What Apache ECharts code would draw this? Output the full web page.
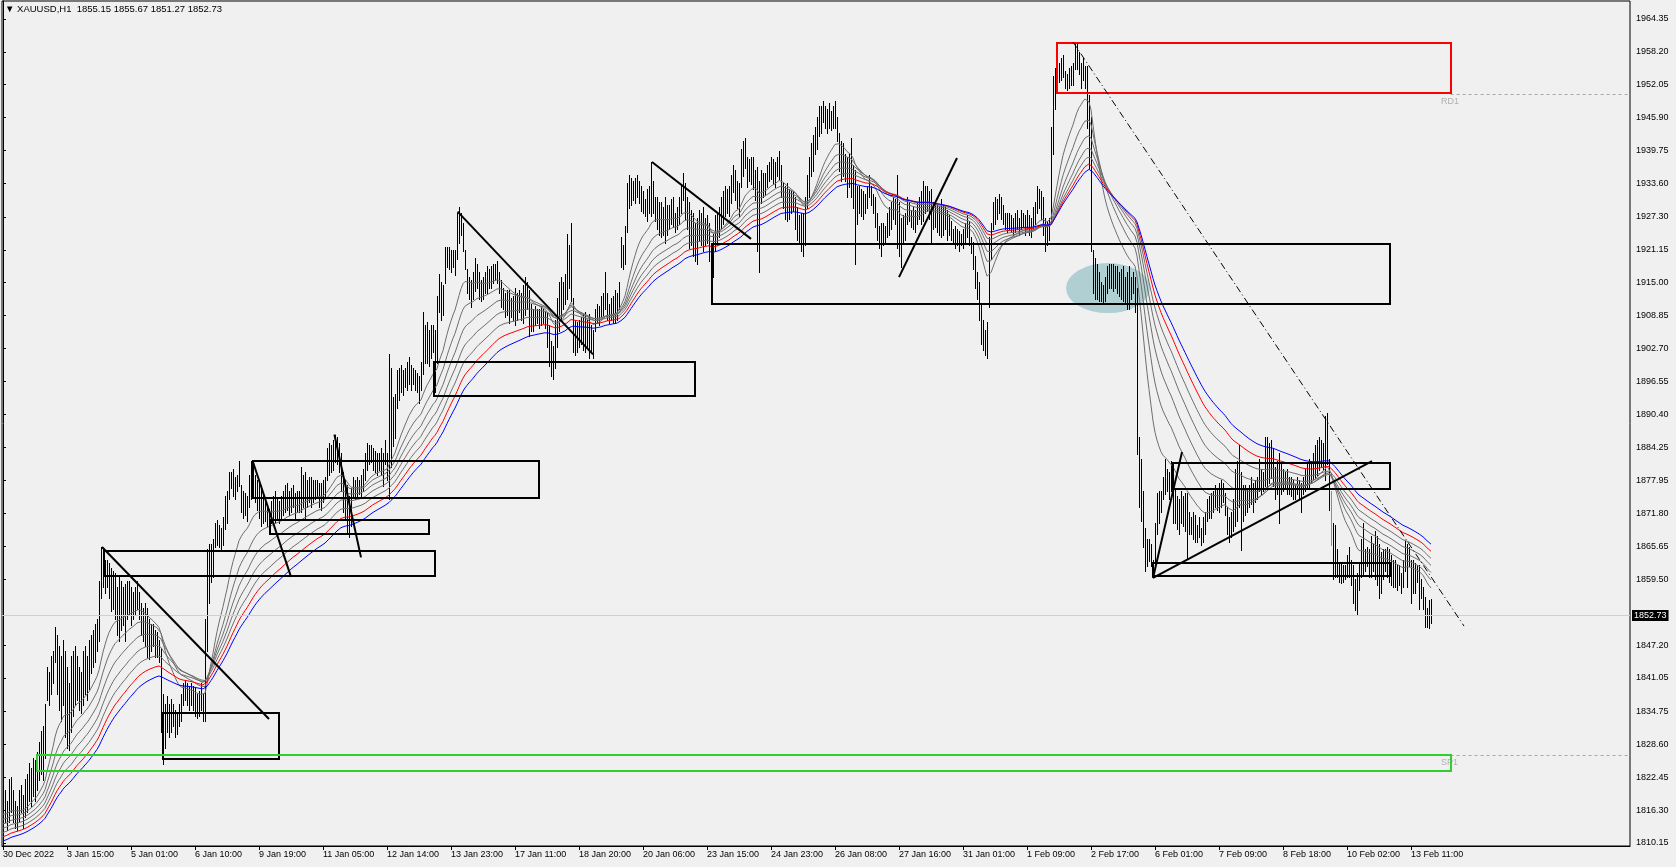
<!DOCTYPE html>
<html><head><meta charset="utf-8">
<script src="https://cdn.jsdelivr.net/npm/echarts@6/dist/echarts.min.js"></script>
<style>html,body{margin:0;padding:0;background:#f0f0f0;}#c{width:1676px;height:867px;}</style>
</head><body><div id="c"></div>
<script>
// ---------------- data ----------------
const titleText = '\u25BC XAUUSD,H1  1855.15 1855.67 1851.27 1852.73';
const lastPrice = 1852.73;

// H1 bar lows / highs, bar 0 = 30 Dec 2022
const lows = [
1813,1814,1812.5,1814,1816,1814,1813,1812.5,1814,1816,
1813,1815,1816,1818,1817,1819,1818,1820,1822,1823,
1822,1826,1837,1836,1838,1840,1844,1838,1835,1833,
1836,1830,1828,1827.5,1831,1834,1836,1837,1835,1834.5,
1836,1838,1837,1839,1842,1843,1844,1846,1848,1856,
1858,1857,1858,1856,1853.5,1854,1852,1849,1848,1850,
1851,1848,1852,1853,1851,1852,1853,1854,1852,1849,
1848,1847,1845,1844.5,1846,1847,1845,1845,1844,1831,
1825,1828,1831,1830,1831,1832,1830,1830.5,1832,1833,
1836,1837,1836,1835,1836,1835,1834,1833.5,1834,1835,
1833,1833,1846,1855,1859,1860,1865.5,1866,1865.5,1865,
1866,1869,1870,1874.5,1876.5,1875,1874.5,1876,1877,1872,
1871,1871.5,1870.5,1873,1874.5,1875,1874,1872.5,1871,1869.5,
1870,1870.5,1869.5,1869,1870,1871,1870,1871,1870,1871,
1871.5,1872,1872.5,1871.5,1872,1873,1871,1872,1872,1872,
1873,1871,1873,1874,1873,1874,1874.5,1875,1873,1872.5,
1874,1875,1878,1879,1879.5,1880,1881.5,1881,1879.5,1876,
1872,1871,1868,1867.5,1869.5,1875,1874.5,1875,1875.5,1875,
1876,1878,1880,1881,1881.5,1880,1879.5,1879,1880,1879,
1877,1881,1878,1874.5,1880.5,1884.5,1886,1891.5,1893,1894.5,
1894,1895.5,1895,1896,1895,1896,1895,1894.5,1892.5,1895,
1898,1900,1900,1899.5,1901,1902,1894.5,1900,1909.5,1908,
1909,1915,1918,1917.5,1917,1918,1916.5,1919.5,1922.5,1924,
1921,1917.5,1913,1912,1910.5,1912,1913.5,1914,1912,1911.5,
1912,1913,1913,1914,1914,1915,1915.5,1915,1913,1910.5,
1910,1908.5,1909,1907.5,1908.5,1908,1907,1908,1909.5,1908,
1907.5,1909,1910,1905,1906,1906,1907,1907.5,1906.5,1907,
1907.5,1906.5,1903,1899.5,1897.5,1897,1899,1903,1906,1908,
1910,1911,1912,1914,1911.5,1902,1901.5,1902,1903,1903.5,
1902.5,1902,1903,1901,1902,1901,1906,1907.5,1907,1908.5,
1909,1910,1908,1907.5,1908,1907.5,1907.5,1908,1910,1918,
1917.5,1918.5,1924.5,1929,1929.5,1930.5,1930,1931,1930,1928.5,
1928,1927.5,1926.5,1928,1927.5,1928,1926.5,1925,1924,1923.5,
1924,1922.5,1924,1925,1926,1925.5,1924.5,1925,1926,1928,
1930.5,1927,1925,1921.5,1922,1920,1919,1918.5,1923,1922,
1921,1922,1922.5,1919,1911.5,1916,1921,1922,1923.5,1925,
1926,1927.5,1928,1927.5,1930,1932,1930.5,1929,1927.5,1933,
1935,1936.5,1933,1934,1933.5,1932.5,1930.5,1921,1917,1930,
1931,1931.5,1933,1934,1934.5,1933.5,1933,1935,1934.5,1931,
1929,1927,1926.5,1927,1928,1928.5,1925,1923,1922.5,1921,
1920,1922,1929,1931,1935,1936,1939,1940,1942.5,1943,
1945,1944,1943,1944,1943.5,1944,1944,1941.5,1936,1934,
1935,1934,1931,1933,1931,1929,1918.5,1926,1928,1927.5,
1927,1928,1929,1931,1929.5,1928,1925.5,1923,1921.5,1920,
1922,1922.5,1923.5,1924,1925,1927,1926,1921.5,1920,1918,
1922.5,1923,1926,1926.5,1925.5,1925,1924.5,1926,1927,1926,
1926.5,1928,1928.5,1927,1922.5,1925,1925.5,1924.5,1924,1923.5,
1924,1925,1923,1924,1923,1922.5,1921.5,1922,1921,1922,
1921.5,1922.5,1923.5,1922,1920.5,1917.5,1914,1912,1908,1903.5,
1902.5,1901.5,1901,1910.5,1919.5,1925,1926,1927,1928,1927,
1926,1925,1924.5,1925,1924.5,1924,1924.5,1925,1924,1925,
1925.5,1924,1925,1924,1923.5,1925,1926,1928,1929,1927,
1924,1921,1922,1923,1926.5,1939,1947.5,1951,1952.5,1953,
1953.5,1951.5,1951,1951.5,1952,1952,1955,1955,1954,1951.5,
1953,1951.5,1944,1936.5,1921,1913,1912,1912,1911.5,1911.5,
1911,1911.5,1913,1914,1914,1913.5,1914,1913,1912.5,1912,
1911.5,1911,1910,1910,1912,1913,1909.5,1883,1873,1870.5,
1865.5,1861,1862,1863,1862,1860,1863,1868,1870,1872,
1874.5,1875.5,1876,1874.5,1876,1870,1870,1869,1868,1870,
1869.5,1868.5,1863.5,1868,1868,1867,1866.5,1866.5,1867.5,1866,
1866.5,1868,1870.5,1871,1871,1872,1873,1872.5,1872,1873,
1874,1871.5,1868,1866.5,1867.5,1868.5,1869.5,1870.5,1873,1865,
1870.5,1871.5,1872,1873,1873.5,1872,1874,1874.5,1876,1875.5,
1876,1877,1876.5,1877.5,1878.5,1877,1874.5,1875.5,1870,1875.5,
1876,1876.5,1875.5,1875.5,1875,1874.5,1874.5,1875.5,1874.5,1872,
1875.5,1876,1876.5,1876.5,1877.5,1878,1878.5,1879,1880,1880.5,
1880,1878,1881,1872.5,1866,1859.5,1860,1860,1859,1858.8,
1859,1859.5,1860,1860,1858.5,1855,1853.8,1852.8,1857.5,1860,
1860.5,1861,1862,1860,1860,1861,1859.5,1858.5,1856,1857,
1859.5,1861,1860,1859,1858.5,1858,1858,1857.5,1858.5,1857,
1858,1861,1858,1862,1855,1857,1857,1859,1854,1856,
1854,1850.6,1850.6,1850.4,1851.27
];
const highs = [
1819,1820,1818,1822,1822.5,1820,1818,1817,1820,1821,
1819,1822,1823,1825,1824,1826,1825.5,1827,1829,1831,
1832,1836,1843,1842,1845,1846,1850.5,1849,1847,1845,
1848,1846,1843,1840,1845,1846,1847,1845,1843,1842,
1846,1847,1845,1848,1849,1850,1851,1852,1859,1865.5,
1865,1863,1863,1862.5,1861.5,1861,1860.5,1858,1860,1859,
1858,1858.5,1859,1859,1858,1857,1858,1859,1857,1855,
1854,1855,1854,1852,1851,1851,1850,1849.5,1848,1846.5,
1838,1836,1837.5,1836,1837,1836,1835,1834.5,1836,1838,
1840,1840.5,1840,1839.5,1840,1839.5,1839,1838,1838.5,1840,
1838,1852,1865,1866,1866,1867,1870,1870.5,1869.5,1869,
1871,1875,1876,1879.5,1879.5,1880,1878.5,1879,1881.5,1877,
1876,1875.5,1875,1879,1881.5,1880,1879,1878,1877.5,1877,
1875,1874,1873,1872.5,1874,1875,1876,1874.5,1874,1875,
1876,1877,1877.5,1876,1876.5,1877,1875.5,1876,1876,1880.5,
1879,1879.5,1878,1878.5,1878.5,1878,1878,1878,1877.5,1877.5,
1878,1878.5,1884,1885,1884.5,1885.5,1886.5,1886,1885,1883,
1879.5,1878,1877,1875,1876.5,1878.5,1878,1878.5,1878,1879,
1880,1883,1885,1884.5,1884.5,1884,1883.5,1883,1883,1884,
1883,1885.5,1883,1901.5,1899,1893.5,1894,1898.5,1899,1899.5,
1898.5,1899,1900,1901,1899.5,1899,1898.5,1898,1897.5,1900,
1909.5,1907,1907.5,1906,1907,1907,1906,1912.5,1916.5,1915,
1914.5,1921.5,1921.5,1921.5,1921,1921,1921,1928,1929,1928,
1926,1921,1917.5,1916,1915.5,1917,1919.5,1918.5,1917,1915.5,
1916,1917,1918,1917.5,1918,1918.5,1918.5,1919,1917,1915.5,
1914,1913,1913.5,1913.5,1912,1912.5,1914,1913,1913.5,1913,
1914.5,1916,1915,1913.5,1911,1910,1910.5,1910,1910,1910.5,
1910,1909.5,1909.5,1907,1904,1903,1908,1912,1915,1916,
1915,1916.5,1924,1922,1926,1912,1908,1907.5,1908,1908.5,
1909,1909.5,1908,1909,1907,1906,1910,1911,1910.5,1912.5,
1913,1917,1913,1911,1912,1912.5,1913.5,1913,1915,1923.5,
1922,1925.5,1933.5,1935,1934.5,1934,1934.5,1935,1934,1933,
1932,1930.5,1932.5,1933,1937.5,1934,1931,1931,1930,1930,
1929,1931,1929.5,1929.5,1930.5,1931,1928,1929,1931,1933,
1935.5,1933.5,1931,1930,1928.5,1928,1926,1927,1928.5,1928,
1929,1927,1927.5,1926,1922,1924,1927.5,1928,1929,1931,
1932,1933,1932.5,1933,1935,1937,1936,1934,1933.5,1940,
1941.5,1942,1938.5,1938,1938.5,1938.5,1936,1936.5,1934,1936,
1935.5,1935.5,1937,1937.5,1938.5,1938,1937.5,1938.5,1939.5,1937,
1933.5,1933,1933.5,1932.5,1932,1932,1931,1929,1927.5,1928,
1928,1931,1935,1938.5,1941,1942.5,1944,1946,1948,1948,
1949,1948,1947.5,1948.5,1947,1948,1949,1946,1943,1941.5,
1941,1939,1938.5,1939,1942,1937,1936,1933,1933,1932.5,
1932,1931.5,1933,1935,1933,1931.5,1931,1928,1925.5,1926,
1926,1925.5,1928,1929,1930,1931,1930.5,1935,1930,1927,
1927.5,1928,1931,1930,1928.5,1929,1928.5,1930,1931,1932,
1934,1933,1933,1932,1932.5,1930,1930,1929.5,1929,1930.5,
1929.5,1929,1928.5,1927.5,1926.5,1925,1925.5,1925,1924.5,1924,
1925,1926,1927.5,1926.5,1923.5,1922.5,1920,1917,1915,1911,
1908,1906,1907.5,1923.5,1926,1930,1931,1930.5,1931.5,1931,
1929.5,1928,1928,1928,1927.5,1927,1928,1928.5,1927,1928.5,
1928,1927.5,1928.5,1927.5,1927,1929,1930,1933,1932.5,1932,
1931,1927,1926.5,1927,1944,1953.5,1955,1956,1956,1957,
1957.5,1954.5,1954,1955,1955.5,1956,1960,1959.5,1958,1956,
1957,1955.5,1955.5,1950,1946,1921,1919.5,1918.5,1917,1915,
1914.5,1916,1918,1918.5,1918.5,1918.5,1918,1918,1917,1917.5,
1918,1916,1917,1918,1916,1917,1916,1914,1886,1882,
1876,1869,1867,1867,1866,1863,1870,1875.5,1876,1876,
1878.5,1882,1880,1879.5,1881.5,1878.5,1876.5,1875,1874.5,1876,
1875,1875.5,1875.5,1872,1871,1872,1871.5,1869.5,1871,1869,
1871,1872,1874.5,1875,1875.5,1876,1877,1876.5,1877.5,1878,
1877.5,1875.5,1873,1871,1872,1874.5,1880,1881.5,1884.5,1879.5,
1877,1877,1876.5,1877,1878.5,1877.5,1878,1878.5,1882,1880,
1879.5,1886,1886,1885,1885.5,1884,1880.5,1881.5,1883,1881,
1880,1879.5,1880,1878.5,1878.5,1878,1877,1878.5,1878,1877.5,
1878.5,1880,1881,1882,1881.5,1883,1884.5,1885.5,1886,1885.5,
1885,1890,1890.5,1882,1876,1870,1869.5,1865,1862.5,1862.5,
1862,1862,1864,1865.5,1863,1862,1859.5,1860.5,1862.5,1867,
1870,1865,1865.5,1865,1867.5,1866,1868.5,1867.5,1866,1864.5,
1865,1865,1865.5,1865,1864,1863,1863,1862,1862,1860.5,
1863,1866.5,1866,1865.5,1863,1863,1862.5,1862,1862,1859.5,
1858,1856,1854,1855.6,1855.67
];
const greenBars = [664];

// time axis labels, one every 32 bars
const labelStep = 32;
const timeLabels = ['30 Dec 2022','3 Jan 15:00','5 Jan 01:00','6 Jan 10:00','9 Jan 19:00','11 Jan 05:00',
 '12 Jan 14:00','13 Jan 23:00','17 Jan 11:00','18 Jan 20:00','20 Jan 06:00','23 Jan 15:00','24 Jan 23:00',
 '26 Jan 08:00','27 Jan 16:00','31 Jan 01:00','1 Feb 09:00','2 Feb 17:00','6 Feb 01:00','7 Feb 09:00',
 '8 Feb 18:00','10 Feb 02:00','13 Feb 11:00'];
const totalSlots = 814;

// price scale labels
const priceTicks = [1964.35,1958.20,1952.05,1945.90,1939.75,1933.60,1927.30,1921.15,1915.00,1908.85,1902.70,
 1896.55,1890.40,1884.25,1877.95,1871.80,1865.65,1859.50,1847.20,1841.05,1834.75,1828.60,1822.45,1816.30,1810.15];
const priceMin = 1809.59, priceMax = 1967.72;

// moving averages (EMA of median price), periods and values at bar 0
const emaPeriods = [20,30,40,50,60,70,80];
const emaStart = [1815.5,1814.5,1813.6,1812.8,1812.0,1811.2,1810.4];

// drawn objects: [startBar, endBar, topPrice, bottomPrice]
const boxes = [
 [80,138,1834.5,1825.9],
 [354.5,693.3,1922.25,1911.0],
 [215.5,346,1900.15,1893.85],
 [125,268,1881.6,1874.6],
 [133.5,213,1870.65,1868.1],
 [50.5,216,1864.85,1860.1],
 [585,693.3,1881.25,1876.45],
 [575,693.3,1862.6,1860.1]
];
const greenZone = [16.8,723.8,1826.6,1823.6];
const redZone = [527,723.8,1959.8,1950.45];
// trend lines: [bar1, price1, bar2, price2]
const trendLines = [
 [49.5,1865.55,133,1833.35],
 [125,1881.45,144,1859.95],
 [165.7,1886.6,179,1863.6],
 [227.3,1928.3,295,1901.6],
 [324.5,1937.6,374,1923.2],
 [448,1916.05,477,1938.35],
 [575,1859.75,589.5,1883.3],
 [575,1859.75,684.5,1881.6]
];
const dashDotLine = [535,1960.05,730.5,1850.75];
// ellipse: [centerBar, centerPrice, halfWidthBars, halfHeightPrice]
const ellipseZone = [552.5,1914.0,21,4.68];
// zone levels: [fromBar, price, name, labelBar, labelPrice]
const zoneLevels = [[723.8,1950.3,'RD1',719,1948.9],[723.8,1826.6,'SP1',719,1825.3]];

// ---------------- chart ----------------
const FONT = 'Liberation Sans, Arial, sans-serif';
const labelIdx = timeLabels.map((t, k) => k * labelStep);
const barData = lows.map((l, i) => [i, l, highs[i], greenBars.indexOf(i) >= 0 ? 1 : 0]);

function ema(period, start) {
  const k = 2 / (period + 1); let v = start;
  return lows.map((l, i) => { v += k * ((l + highs[i]) / 2 - v); return [i, v]; });
}
const maColors = ['#6e6e6e','#6e6e6e','#6e6e6e','#6e6e6e','#6e6e6e','#ff0000','#0000ff'];

const chart = echarts.init(document.getElementById('c'), null, {renderer: 'canvas'});
const series = [];

series.push({
  type: 'custom', z: 1, silent: true, data: [ellipseZone],
  renderItem: function (params, api) {
    const c = api.coord([api.value(0), api.value(1)]);
    const r = api.coord([api.value(0) + api.value(2), api.value(1) + api.value(3)]);
    const rx = r[0] - c[0], ry = c[1] - r[1];
    return {type: 'path', shape: {pathData:
      'M' + (c[0] - rx) + ' ' + c[1] + ' A' + rx + ' ' + ry + ' 0 1 0 ' + (c[0] + rx) + ' ' + c[1] +
      ' A' + rx + ' ' + ry + ' 0 1 0 ' + (c[0] - rx) + ' ' + c[1] + ' Z'},
      style: {fill: '#b0cfd2', stroke: null}};
  }
});

series.push({
  type: 'custom', z: 2, silent: true, data: barData,
  renderItem: function (params, api) {
    const i = api.value(0);
    const a = api.coord([i, api.value(2)]), b = api.coord([i, api.value(1)]);
    const x = Math.floor(a[0]) + 0.5;
    return {type: 'line', shape: {x1: x, y1: Math.floor(a[1]), x2: x, y2: Math.round(b[1]) + 1},
      style: {stroke: api.value(3) ? '#32cd32' : '#000000', lineWidth: 1}};
  }
});

emaPeriods.forEach((p, k) => {
  const s = {type: 'line', z: 3, silent: true, showSymbol: false, symbol: 'none',
    data: ema(p, emaStart[k]), lineStyle: {color: maColors[k], width: 1}};
  if (k === 0) {
    s.markLine = {silent: true, symbol: ['none','none'], animation: false,
      data: [{yAxis: lastPrice}], lineStyle: {color: '#cfcfcf', type: 'solid', width: 1},
      label: {show: true, position: 'end', distance: 2, formatter: () => lastPrice.toFixed(2),
        backgroundColor: '#000', color: '#fff', padding: [1,2,1,2], fontSize: 9, fontFamily: FONT}};
  }
  series.push(s);
});

function rectItem(color, width) {
  return function (params, api) {
    const p1 = api.coord([api.value(0), api.value(2)]);
    const p2 = api.coord([api.value(1), api.value(3)]);
    return {type: 'rect', shape: {x: Math.round(p1[0]), y: Math.round(p1[1]),
      width: Math.round(p2[0] - p1[0]), height: Math.round(p2[1] - p1[1])},
      style: {fill: null, stroke: color, lineWidth: width}};
  };
}
series.push({type: 'custom', z: 5, silent: true, data: boxes, renderItem: rectItem('#000', 2)});
series.push({type: 'custom', z: 5, silent: true, data: [greenZone], renderItem: rectItem('#32cd32', 2)});
series.push({type: 'custom', z: 5, silent: true, data: [redZone], renderItem: rectItem('#ff0000', 2)});

series.push({
  type: 'custom', z: 4, silent: true, data: zoneLevels.map(z => [z[0], z[1], z[3], z[4]]),
  renderItem: function (params, api) {
    const a = api.coord([api.value(0), api.value(1)]);
    const b = api.coord([totalSlots, api.value(1)]);
    const t = api.coord([api.value(2), api.value(3)]);
    const y = Math.round(a[1]) + 0.5;
    return {type: 'group', children: [
      {type: 'line', shape: {x1: a[0], y1: y, x2: b[0], y2: y},
        style: {stroke: '#a8a8a8', lineWidth: 1, lineDash: [3, 3]}},
      {type: 'text', style: {text: zoneLevels[params.dataIndex][2], x: t[0], y: t[1],
        fill: '#b0b0b0', font: '9px ' + FONT, textAlign: 'left', textVerticalAlign: 'middle'}}
    ]};
  }
});

series.push({
  type: 'custom', z: 6, silent: true, data: trendLines,
  renderItem: function (params, api) {
    const a = api.coord([api.value(0), api.value(1)]), b = api.coord([api.value(2), api.value(3)]);
    return {type: 'line', shape: {x1: a[0], y1: a[1], x2: b[0], y2: b[1]},
      style: {stroke: '#000', lineWidth: 2}};
  }
});
series.push({
  type: 'custom', z: 6, silent: true, data: [dashDotLine],
  renderItem: function (params, api) {
    const a = api.coord([api.value(0), api.value(1)]), b = api.coord([api.value(2), api.value(3)]);
    return {type: 'line', shape: {x1: a[0], y1: a[1], x2: b[0], y2: b[1]},
      style: {stroke: '#000', lineWidth: 1, lineDash: [7, 3, 1, 3]}};
  }
});

chart.setOption({
  animation: false,
  backgroundColor: '#f0f0f0',
  title: {text: titleText, left: 5, top: 4, padding: 0,
    textStyle: {fontSize: 9.5, fontWeight: 'normal', color: '#000', fontFamily: FONT}},
  grid: {left: 2, top: 1, right: 46, bottom: 21, show: true, borderColor: '#000', borderWidth: 1,
    backgroundColor: '#f0f0f0'},
  xAxis: {type: 'value', min: -0.5, max: totalSlots - 0.5,
    axisLine: {show: true, lineStyle: {color: '#000', width: 1}},
    axisTick: {show: true, length: 4, customValues: labelIdx, lineStyle: {color: '#000'}},
    axisLabel: {customValues: labelIdx, formatter: v => timeLabels[Math.round(v / labelStep)],
      align: 'left', margin: 4, fontSize: 9, color: '#000', fontFamily: FONT},
    splitLine: {show: false}},
  yAxis: {type: 'value', position: 'right', min: priceMin, max: priceMax,
    axisLine: {show: true, lineStyle: {color: '#000', width: 1}},
    axisTick: {show: true, length: 3, customValues: priceTicks, lineStyle: {color: '#000'}},
    axisLabel: {customValues: priceTicks, formatter: v => v.toFixed(2), margin: 6, fontSize: 9,
      color: '#000', fontFamily: FONT},
    splitLine: {show: false}},
  series: series
});
</script>
</body></html>
